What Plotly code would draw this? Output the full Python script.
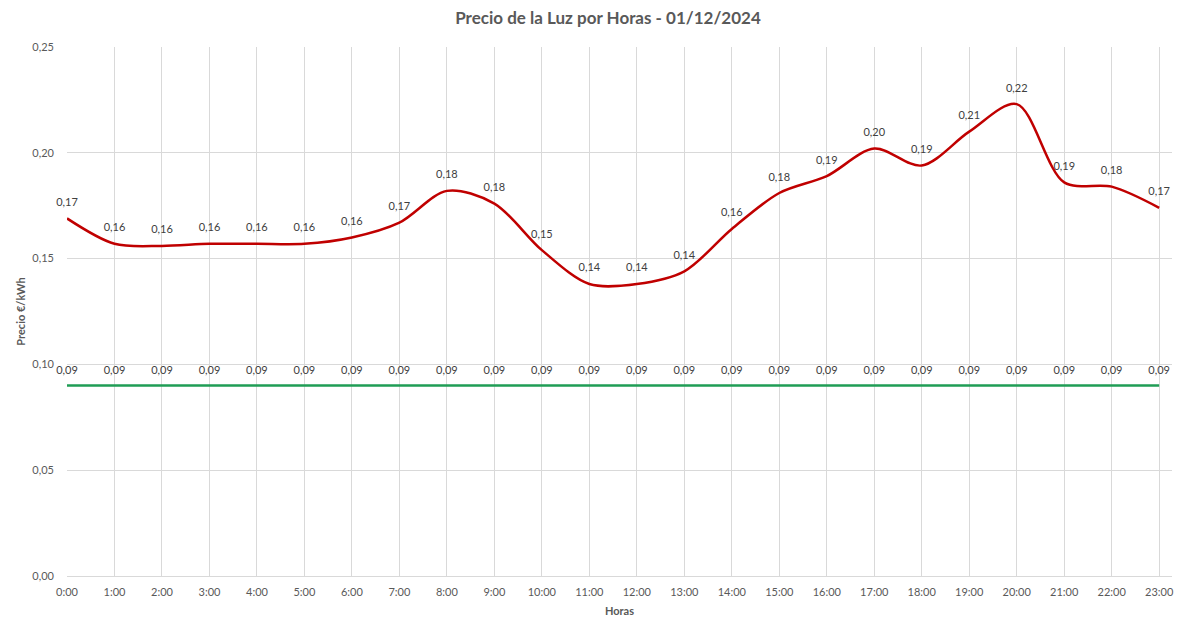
import plotly.graph_objects as go

horas = ['0:00', '1:00', '2:00', '3:00', '4:00', '5:00', '6:00', '7:00', '8:00', '9:00',
         '10:00', '11:00', '12:00', '13:00', '14:00', '15:00', '16:00', '17:00', '18:00',
         '19:00', '20:00', '21:00', '22:00', '23:00']
precio = [0.169, 0.157, 0.156, 0.157, 0.157, 0.157, 0.160, 0.167, 0.182, 0.176,
          0.154, 0.138, 0.138, 0.144, 0.164, 0.181, 0.189, 0.202, 0.194,
          0.210, 0.223, 0.186, 0.184, 0.174]
referencia = [0.09] * 24
y_ticks = [0.00, 0.05, 0.10, 0.15, 0.20, 0.25]

x = list(range(len(horas)))
font_fam = "Lato, Open Sans, sans-serif"

fig = go.Figure()

fig.add_trace(go.Scatter(
    x=x, y=referencia, mode='lines+markers+text',
    line=dict(color='#1F9D55', width=2.5),
    marker=dict(size=13, color='rgba(0,0,0,0)'),
    text=[f'{v:.2f}'.replace('.', ',') for v in referencia],
    textposition='top center',
    textfont=dict(size=11, color='#404040', family=font_fam),
    cliponaxis=False, hoverinfo='skip'
))

fig.add_trace(go.Scatter(
    x=x, y=precio, mode='lines+markers+text',
    line=dict(color='#C00000', width=2.5, shape='spline', smoothing=0.9),
    marker=dict(size=14, color='rgba(0,0,0,0)'),
    text=[f'{v:.2f}'.replace('.', ',') for v in precio],
    textposition='top center',
    textfont=dict(size=11, color='#404040', family=font_fam),
    cliponaxis=False, hoverinfo='skip'
))

# la página tiene 8px de margen, se compensa aquí
fig.update_layout(
    width=1200, height=633,
    paper_bgcolor='white', plot_bgcolor='white',
    showlegend=False,
    separators=',.',
    margin=dict(l=59, r=36, t=39, b=65, autoexpand=False),
    font=dict(family=font_fam, color='#595959', size=11),
    title=dict(text='<b>Precio de la Luz por Horas - 01/12/2024</b>',
               x=0.5, xanchor='center', y=0.984, yanchor='middle',
               font=dict(size=17, color='#595959', family=font_fam)),
    xaxis=dict(
        tickmode='array', tickvals=x, ticktext=horas,
        range=[0, 23.27], automargin=False,
        showgrid=True, gridcolor='#D9D9D9', gridwidth=1,
        showline=True, linecolor='#D9D9D9', zeroline=False,
        ticks='', ticklabelstandoff=6, tickfont=dict(size=11, color='#595959'),
        title=dict(text='<b>Horas</b>', font=dict(size=11, color='#595959'), standoff=10),
    ),
    yaxis=dict(
        tickmode='array', tickvals=y_ticks, tickformat='.2f',
        range=[0, 0.25], automargin=False,
        showgrid=True, gridcolor='#D9D9D9', gridwidth=1,
        zeroline=False, showline=False,
        ticks='', ticklabelstandoff=12, tickfont=dict(size=11, color='#595959'),
        title=dict(text='<b>Precio €/kWh</b>', font=dict(size=11, color='#595959'), standoff=4),
    ),
)

fig.write_html("out.html")
